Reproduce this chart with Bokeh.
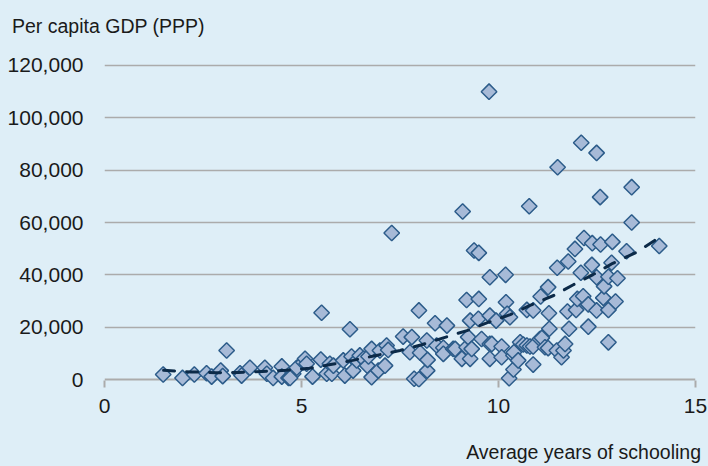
from bokeh.plotting import figure
from bokeh.models import Range1d, FixedTicker, NumeralTickFormatter, Span, Title, ColumnDataSource
from bokeh.embed import file_html
from bokeh.resources import INLINE
import math

# ---- data ----
schooling = [1.49, 1.98, 2.28, 2.59, 2.72, 2.95, 3.0, 3.1, 3.44, 3.48, 3.69, 4.07, 4.12, 4.28, 4.5, 4.5,
             4.67, 4.79, 4.88, 5.05, 5.09, 5.13, 5.28, 5.49, 5.51, 5.64, 5.72, 5.77, 5.81, 6.06, 6.1,
             6.23, 6.27, 6.31, 6.4, 6.48, 6.57, 6.67, 6.7, 6.78, 6.78, 6.95, 6.99, 7.12, 7.16, 7.2,
             7.29, 7.58, 7.75, 7.8, 7.86, 7.98, 7.98, 8.01, 8.18, 8.19, 8.2, 8.39, 8.43, 8.6, 8.6,
             8.69, 8.85, 8.9, 9.07, 9.09, 9.19, 9.19, 9.23, 9.28, 9.28, 9.32, 9.38, 9.49, 9.5, 9.5,
             9.57, 9.76, 9.78, 9.78, 9.78, 9.78, 9.83, 9.94, 10.08, 10.08, 10.18, 10.19, 10.22, 10.27,
             10.29, 10.38, 10.38, 10.39, 10.5, 10.55, 10.63, 10.72, 10.72, 10.78, 10.8, 10.88, 10.88,
             10.88, 11.05, 11.07, 11.1, 11.18, 11.26, 11.26, 11.28, 11.29, 11.48, 11.49, 11.5, 11.6,
             11.65, 11.69, 11.75, 11.77, 11.79, 11.94, 11.97, 12.0, 12.09, 12.1, 12.15, 12.17, 12.28,
             12.28, 12.37, 12.38, 12.49, 12.49, 12.49, 12.58, 12.59, 12.66, 12.68, 12.79, 12.79, 12.79,
             12.87, 12.89, 12.97, 13.02, 13.25, 13.38, 13.38, 14.08, 4.71]
gdp = [1900, 600, 1900, 2400, 1100, 3400, 1300, 11100, 2400, 1500, 4500, 4500, 2200, 600, 5000, 1100,
       600, 2200, 4500, 6600, 7900, 6000, 1100, 7600, 25500, 2200, 6000, 2200, 5300, 7300, 1500,
       19200, 8800, 3400, 7300, 9200, 7900, 5300, 8800, 11700, 900, 3400, 11100, 5300, 13000, 11300,
       56000, 16400, 10400, 16200, 300, 100, 26400, 10200, 14900, 3400, 7500, 21500, 13000, 12100, 9800,
       20600, 11700, 11700, 7900, 64200, 30400, 12300, 16200, 22500, 7900, 11700, 49300, 23200, 48400, 30800,
       15500, 110000, 39100, 24400, 13600, 7900, 13600, 22500, 12600, 8500, 40000, 29500, 25100, 500,
       23800, 3800, 9200, 10400, 7300, 14200, 13400, 26600, 13000, 66200, 12600, 26400, 12600,
       5700, 15500, 31700, 15900, 12300, 35300, 12000, 25300, 19400, 11100, 42700, 81100, 8500,
       11100, 13600, 26000, 45100, 19400, 49900, 26600, 30800, 40800, 90500, 31800, 54100, 28700,
       20200, 43800, 52100, 86600, 39100, 26400, 69700, 51600, 31200, 35600, 39300, 26600, 14200,
       44600, 52600, 29800, 38700, 49000, 73500, 60000, 51000, 600]

trend_x = [1.5, 2.2, 2.8, 3.4, 4.0, 4.6, 5.2, 5.7, 6.3, 6.9, 7.5, 8.05, 8.6, 9.2, 9.75, 10.3,
           10.8, 11.4, 11.9, 12.4, 12.9, 13.5, 14.1]
trend_y = [3500, 2900, 2600, 2700, 3100, 3500, 4300, 5600, 7300, 9200, 11100, 13300, 15900, 18700,
           21900, 24800, 28300, 32100, 36200, 40100, 44400, 48600, 54500]

x_ticks = [0, 5, 10, 15]
y_ticks = [0, 20000, 40000, 60000, 80000, 100000, 120000]

BG = "#deeef7"
FONT = "Liberation Sans"
TXT = "#1a1a1a"
GRID = "#ababab"

p = figure(width=708, height=466, output_backend="svg", toolbar_location=None,
           x_range=Range1d(0, 15), y_range=Range1d(-3057, 123057),
           min_border_left=104, min_border_right=13, min_border_top=57, min_border_bottom=79)
p.background_fill_color = BG
p.border_fill_color = BG
p.outline_line_color = None

# y axis
p.yaxis.ticker = FixedTicker(ticks=y_ticks)
p.yaxis.formatter = NumeralTickFormatter(format="0,0")
p.yaxis.axis_line_color = None
p.yaxis.major_tick_line_color = None
p.yaxis.minor_tick_line_color = None
p.yaxis.major_label_standoff = 15
p.yaxis.major_label_text_font = FONT
p.yaxis.major_label_text_font_size = "21px"
p.yaxis.major_label_text_color = TXT

# x axis
p.xaxis.ticker = FixedTicker(ticks=x_ticks)
p.xaxis.axis_line_color = None
p.xaxis.major_tick_in = 7
p.xaxis.major_tick_out = 0
p.xaxis.major_tick_line_color = GRID
p.xaxis.major_tick_line_width = 2
p.xaxis.minor_tick_line_color = None
p.xaxis.major_label_standoff = 11
p.xaxis.major_label_text_font = FONT
p.xaxis.major_label_text_font_size = "21px"
p.xaxis.major_label_text_color = TXT

p.xgrid.grid_line_color = None
p.ygrid.ticker = FixedTicker(ticks=y_ticks[1:])
p.ygrid.grid_line_color = GRID
p.ygrid.grid_line_width = 1.4

p.add_layout(Span(location=0, dimension="width", line_color=GRID, line_width=2.2, level="underlay"))

src = ColumnDataSource(dict(x=schooling, y=gdp))
p.scatter("x", "y", source=src, marker="square", size=11, angle=math.pi / 4,
          fill_color="#a7bad7", line_color="#2c5c8a", line_width=1.5)

p.line(trend_x, trend_y, line_color="#0c2a48", line_width=3, line_dash="11 12", line_cap="round")

p.add_layout(Title(text="Per capita GDP (PPP)\n", align="left", offset=-92.5, standoff=-2,
                   vertical_align="bottom",
                   text_font=FONT, text_font_size="19.5px", text_font_style="normal",
                   text_color=TXT), "above")
p.add_layout(Title(text="\nAverage years of schooling", align="right", offset=-5.5, standoff=2,
                   vertical_align="bottom",
                   text_font=FONT, text_font_size="19.5px", text_font_style="normal",
                   text_color=TXT), "below")

html = file_html(p, INLINE)
html = html.replace("</head>",
                    "<style>html,body{margin:0;padding:0;background:%s;overflow:hidden;}</style></head>" % BG, 1)
open("out.html", "w").write(html)
